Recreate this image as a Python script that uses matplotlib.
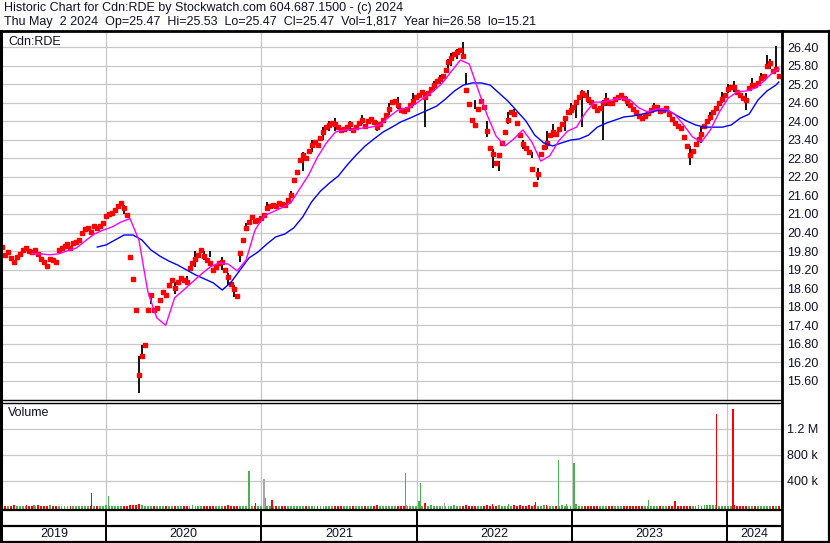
import matplotlib
matplotlib.use("Agg")
import matplotlib.pyplot as plt
import matplotlib.dates as mdates
from matplotlib.lines import Line2D
import pandas as pd

plt.rcParams['font.family'] = ['Liberation Sans', 'DejaVu Sans']

# ---- data ----
title1 = "Historic Chart for Cdn:RDE by Stockwatch.com 604.687.1500 - (c) 2024"
title2 = "Thu May  2 2024  Op=25.47  Hi=25.53  Lo=25.47  Cl=25.47  Vol=1,817  Year hi=26.58  lo=15.21"
symbol = "Cdn:RDE"
last_date = "2024-05-02"
x_start, x_end = "2019-05-02", "2024-05-07"
years = [2019, 2020, 2021, 2022, 2023, 2024]

# weekly closes, oldest first
close = [
    19.93, 19.68, 19.77, 19.58, 19.45, 19.60, 19.71, 19.84, 19.90, 19.80,
    19.77, 19.84, 19.71, 19.55, 19.45, 19.32, 19.55, 19.50, 19.45, 19.84,
    19.90, 19.95, 20.03, 19.90, 20.06, 20.10, 20.16, 20.39, 20.50, 20.55,
    20.42, 20.61, 20.55, 20.60, 20.71, 20.94, 21.00, 21.03, 21.13, 21.26,
    21.36, 21.20, 20.97, 19.60, 18.90, 17.90, 15.80, 16.40, 16.77, 17.90,
    18.38, 17.90, 17.96, 18.22, 18.48, 18.38, 18.71, 18.87, 18.61, 18.80,
    18.93, 18.85, 18.80, 19.26, 19.40, 19.55, 19.68, 19.84, 19.65, 19.50,
    19.40, 19.19, 19.30, 19.40, 19.45, 19.20, 18.95, 18.75, 18.58, 18.35,
    19.74, 20.16, 20.55, 20.74, 20.90, 20.76, 20.80, 20.87, 20.97, 21.20,
    21.25, 21.29, 21.26, 21.36, 21.32, 21.29, 21.45, 21.62, 22.10, 22.36,
    22.75, 22.91, 22.81, 23.05, 23.23, 23.33, 23.23, 23.45, 23.65, 23.80,
    23.88, 23.95, 23.90, 23.82, 23.72, 23.76, 23.82, 23.91, 23.72, 23.82,
    23.95, 24.04, 23.85, 24.00, 24.08, 23.98, 23.80, 23.90, 24.05, 24.20,
    24.40, 24.62, 24.65, 24.52, 24.38, 24.32, 24.40, 24.52, 24.66, 24.78,
    24.86, 24.95, 24.78, 24.92, 25.05, 25.17, 25.30, 25.38, 25.45, 25.66,
    25.92, 26.05, 26.16, 26.24, 26.30, 26.10, 25.00, 24.55, 24.05, 23.88,
    24.40, 24.65, 24.45, 23.70, 23.15, 22.95, 22.65, 22.90, 23.30, 23.65,
    24.05, 24.30, 24.25, 23.95, 23.55, 23.25, 23.15, 23.00, 22.45, 21.98,
    22.30, 22.95, 23.18, 23.30, 23.55, 23.65, 23.60, 23.75, 23.90, 24.10,
    24.30, 24.38, 24.45, 24.62, 24.80, 24.90, 24.85, 24.72, 24.62, 24.48,
    24.36, 24.42, 24.58, 24.69, 24.60, 24.58, 24.72, 24.80, 24.85, 24.75,
    24.65, 24.52, 24.40, 24.30, 24.18, 24.12, 24.18, 24.28, 24.36, 24.45,
    24.47, 24.32, 24.36, 24.43, 24.25, 24.08, 23.95, 23.85, 23.78, 23.50,
    23.20, 22.90, 23.05, 23.25, 23.42, 23.58, 23.85, 24.00, 24.15, 24.30,
    24.42, 24.58, 24.72, 24.85, 25.05, 25.12, 25.10, 24.95, 24.84, 24.75,
    24.70, 25.07, 25.18, 25.16, 25.25, 25.40, 25.47, 25.80, 25.88, 25.62,
    25.70, 25.47,
]

# high/low bars: week index, high, low
bar_wk = [41, 46, 47, 50, 58, 62, 65, 68, 70, 74, 76, 78, 80, 82, 89, 97,
          101, 104, 108, 110, 112, 117, 121, 126, 130, 133, 138, 142, 145, 147,
          150, 151, 153, 155, 156, 159, 163, 165, 167, 170, 172, 175, 178, 180,
          183, 185, 189, 191, 193, 195, 197, 202, 203, 210, 219, 231, 235, 238,
          242, 244, 246, 250, 252, 255, 257, 258, 260]
bar_hi = [21.30, 16.41, 16.75, 18.30, 18.80, 19.00, 19.80, 19.80, 19.80, 19.60,
          19.10, 18.70, 19.70, 20.70, 21.40, 21.75, 23.00, 23.40, 23.80, 24.00,
          24.10, 24.00, 24.20, 24.00, 24.60, 24.80, 24.90, 24.95, 25.30, 25.50,
          26.00, 26.20, 26.35, 26.56, 25.55, 24.70, 24.00, 23.10, 22.70, 24.30,
          24.40, 23.40, 23.00, 22.50, 23.70, 23.90, 24.10, 24.60, 24.60, 25.00,
          25.00, 24.70, 24.90, 24.80, 24.60, 23.20, 23.80, 24.30, 24.95, 25.20,
          25.30, 24.90, 25.40, 25.55, 26.15, 26.00, 26.45]
bar_lo = [21.00, 15.21, 16.40, 18.10, 18.40, 18.70, 19.30, 19.50, 19.60, 19.20,
          18.70, 18.30, 19.45, 20.45, 21.10, 21.55, 22.40, 23.00, 23.40, 23.70,
          23.70, 23.70, 23.90, 23.70, 24.20, 24.40, 24.50, 23.81, 25.00, 25.20,
          25.70, 25.80, 26.00, 26.10, 25.20, 24.40, 23.50, 22.50, 22.40, 23.90,
          24.20, 23.10, 22.80, 22.10, 23.10, 23.50, 23.70, 24.20, 24.10, 23.80,
          24.60, 23.40, 24.50, 24.50, 24.30, 22.60, 23.30, 24.00, 24.60, 24.90,
          24.95, 24.35, 25.10, 25.30, 25.75, 25.70, 25.60]

# fast (magenta) and slow (blue) moving averages, sampled every 3 weeks
ma_fast_wk = list(range(10, 260, 3)) + [261]
ma_fast = [
    19.71, 19.71, 19.68, 19.71, 19.81, 19.90, 20.13, 20.35, 20.48, 20.58,
    20.74, 20.85, 20.16, 18.48, 17.64, 17.40, 18.29, 18.54, 18.80, 19.06,
    19.29, 19.42, 19.38, 19.16, 19.51, 20.48, 20.94, 21.07, 21.20, 21.36,
    21.81, 22.26, 22.84, 23.30, 23.65, 23.72, 23.72, 23.78, 23.81, 23.88,
    24.14, 24.36, 24.43, 24.56, 24.78, 24.98, 25.24, 25.62, 25.98, 25.85,
    25.01, 24.20, 23.52, 23.20, 23.43, 23.72, 23.33, 22.71, 22.88, 23.36,
    23.68, 23.81, 24.27, 24.62, 24.62, 24.69, 24.75, 24.69, 24.43, 24.30,
    24.40, 24.40, 24.23, 23.88, 23.49, 23.33, 23.72, 24.30, 24.75, 24.95,
    24.98, 25.07, 25.30, 25.59, 25.69,
]
ma_slow_wk = list(range(32, 261, 3)) + [261]
ma_slow = [
    19.93, 20.00, 20.16, 20.32, 20.32, 20.16, 19.84, 19.64, 19.48, 19.35,
    19.19, 19.03, 18.90, 18.77, 18.54, 18.80, 19.19, 19.58, 19.77, 20.03,
    20.26, 20.35, 20.55, 20.90, 21.39, 21.74, 22.00, 22.23, 22.59, 22.91,
    23.20, 23.43, 23.65, 23.81, 23.98, 24.10, 24.23, 24.36, 24.49, 24.72,
    24.98, 25.17, 25.24, 25.24, 25.17, 24.91, 24.65, 24.33, 24.01, 23.55,
    23.30, 23.20, 23.30, 23.39, 23.43, 23.55, 23.81, 23.94, 24.04, 24.14,
    24.17, 24.23, 24.30, 24.36, 24.33, 24.17, 24.01, 23.88, 23.81, 23.81,
    23.81, 23.88, 24.10, 24.23, 24.69, 24.98, 25.17, 25.27,
]

# weekly volume (thousands)
vol_k = [
    12, 18, 9, 14, 22, 10, 15, 8, 13, 20, 11, 16, 25, 9, 14, 12, 30, 10, 13, 17,
    9, 14, 11, 19, 12, 8, 16, 13, 21, 10, 14, 12, 18, 9, 15, 24, 11, 13, 17, 10,
    14, 19, 12, 26, 33, 28, 40, 22, 18, 15, 12, 20, 14, 10, 16, 13, 19, 11, 9, 15,
    12, 17, 10, 14, 22, 13, 9, 18, 11, 15, 12, 20, 10, 14, 16, 11, 25, 13, 18, 21,
    15, 12, 20, 14, 11, 16, 13, 18, 10, 14, 12, 17, 9, 13, 15, 11, 19, 12, 14, 10,
    16, 13, 11, 18, 12, 9, 14, 20, 11, 13, 17, 10, 15, 12, 19, 9, 14, 11, 16, 13,
    10, 18, 12, 15, 9, 14, 22, 11, 13, 17, 10, 15, 12, 19, 14, 11, 16, 13, 9, 18,
    15, 20, 17, 12, 25, 14, 10, 16, 13, 19, 11, 15, 28, 12, 18, 14, 22, 17, 12, 15,
    20, 13, 18, 24, 16, 21, 14, 27, 19, 13, 16, 12, 22, 18, 30, 15, 20, 25, 17, 22,
    19, 14, 26, 18, 15, 20, 13, 17, 24, 16, 12, 19, 14, 10, 15, 11, 13, 9, 14, 12,
    10, 15, 11, 13, 9, 16, 12, 14, 10, 13, 18, 11, 15, 9, 12, 14, 10, 16, 13, 11,
    14, 12, 9, 15, 11, 18, 13, 16, 12, 20, 15, 11, 14, 17, 25, 19, 22, 30, 28, 35,
    24, 18, 15, 20, 13, 16, 22, 14, 11, 15, 18, 12, 16, 10, 13, 15, 11, 14, 9, 12,
    13, 10,
]

# single-day volume spikes
spike_dates = ['2019-06-28', '2019-07-16', '2019-11-29', '2020-01-07', '2020-12-03',
               '2020-12-18', '2021-01-07', '2021-01-11', '2021-01-26', '2021-12-06',
               '2021-12-09', '2022-01-07', '2022-01-10', '2022-01-21', '2022-03-08',
               '2022-06-17', '2022-06-29', '2022-08-05', '2022-10-07', '2022-11-02',
               '2022-11-30', '2022-12-20', '2023-01-06', '2023-01-11', '2023-06-30',
               '2023-09-01', '2023-12-06', '2023-12-08', '2024-01-15']
spike_vol_k = [30, 22, 220, 175, 550, 65, 430, 145, 108, 520,
               25, 90, 375, 65, 65, 35, 40, 40, 80, 30,
               720, 40, 680, 40, 105, 90, 30, 1430, 1510]
spike_col = ['r', 'g', 'r', 'g', 'g', 'r', 'k', 'g', 'r', 'g',
             'k', 'g', 'g', 'r', 'k', 'r', 'r', 'g', 'r', 'r',
             'g', 'g', 'g', 'g', 'g', 'r', 'g', 'r', 'r']

# ---- styling ----
W, H = 830, 543
RED, GREEN, GREY = '#ff0000', '#4caf50', '#a8a8a8'
GRID = '#c8c8c8'
TXT = '#10102a'
colmap = {'r': RED, 'g': GREEN, 'k': GREY}


def fx(px):
    return px / W


def fy(py):
    return 1 - py / H


dates = pd.date_range(end=last_date, periods=len(close), freq='7D')
xlo, xhi = mdates.date2num(pd.Timestamp(x_start)), mdates.date2num(pd.Timestamp(x_end))
year_starts = [mdates.date2num(pd.Timestamp(f"{y}-01-01")) for y in years[1:]]

fig = plt.figure(figsize=(W / 100, H / 100), dpi=100)
fig.patch.set_facecolor('white')

# price panel
ax = fig.add_axes([fx(2), fy(401), fx(781) - fx(2), fy(31) - fy(401)])
ax.set_xlim(xlo, xhi)
ax.set_ylim(14.95, 26.92)
ticks = [15.6 + 0.6 * i for i in range(19)]
ax.set_yticks(ticks)
ax.set_yticklabels([f"{t:.2f}" for t in ticks])
ax.yaxis.tick_right()
ax.tick_params(axis='y', length=0, pad=4.5, labelsize=9, labelcolor=TXT)
ax.set_xticks([])
for t in ticks:
    ax.axhline(t, color=GRID, lw=0.9, zorder=0)
for ys in year_starts:
    ax.axvline(ys, color=GRID, lw=0.9, zorder=0)
for s in ax.spines.values():
    s.set_visible(False)

bx = [dates[i] for i in bar_wk]
ax.vlines(bx, bar_lo, bar_hi, color='black', lw=1.3, zorder=2)
ax.plot(dates, close, ls='none', marker='s', ms=2.2, mfc=RED, mec=RED, zorder=3)
ax.plot([dates[i] for i in ma_slow_wk], ma_slow, color='#0000ff', lw=1.0, zorder=4)
ax.plot([dates[i] for i in ma_fast_wk], ma_fast, color='#ff00ff', lw=1.0, zorder=4)
ax.text(6 / 779, 1 - 11 / 370, symbol, transform=ax.transAxes, fontsize=9,
        color=TXT, va='center', ha='left')

# volume panel
vax = fig.add_axes([fx(2), fy(509), fx(781) - fx(2), fy(403) - fy(509)])
vlo = -32e3
vax.set_xlim(xlo, xhi)
vax.set_ylim(vlo, 1.6e6)
vticks = [400e3, 800e3, 1.2e6]
vax.set_yticks(vticks)
vax.set_yticklabels(['400 k', '800 k', '1.2 M'])
vax.yaxis.tick_right()
vax.tick_params(axis='y', length=0, pad=4.5, labelsize=9, labelcolor=TXT)
vax.set_xticks([])
for t in vticks:
    vax.axhline(t, color=GRID, lw=0.9, zorder=0)
for ys in year_starts:
    vax.axvline(ys, color=GRID, lw=0.9, zorder=0)
for s in vax.spines.values():
    s.set_visible(False)

wcol = [GREY] + [GREEN if c > p else RED if c < p else GREY
                 for p, c in zip(close[:-1], close[1:])]
vols = [v * 1e3 for v in vol_k]
vax.bar(dates, [v - vlo for v in vols], bottom=vlo, width=4.5, color=wcol, zorder=2)
sd = pd.to_datetime(spike_dates)
sv = [v * 1e3 for v in spike_vol_k]
vax.bar(sd, [v - vlo for v in sv], bottom=vlo, width=3.2,
        color=[colmap[c] for c in spike_col], zorder=3)
vax.text(6 / 779, 1 - 10 / 106, "Volume", transform=vax.transAxes, fontsize=9,
         color=TXT, va='center', ha='left')

# year strip
sax = fig.add_axes([fx(2), fy(541), fx(781) - fx(2), fy(510) - fy(541)])
sax.set_xlim(xlo, xhi)
sax.set_ylim(0, 1)
sax.axis('off')
sax.axhline(0.47, color='black', lw=1.6)
for ys in year_starts:
    sax.axvline(ys, color='black', lw=1.4)
for y in years:
    a = max(mdates.date2num(pd.Timestamp(f"{y}-01-01")), xlo)
    b = min(mdates.date2num(pd.Timestamp(f"{y + 1}-01-01")), xhi)
    sax.text((a + b) / 2, 0.22, str(y), ha='center', va='center', fontsize=9, color=TXT)

# header
fig.text(fx(4), fy(8.5), title1, fontsize=9, color=TXT, va='center', ha='left')
fig.text(fx(4), fy(22.5), title2, fontsize=9, color=TXT, va='center', ha='left')

# frame lines
def hline(y, x0, x1, lw):
    fig.add_artist(Line2D([fx(x0), fx(x1)], [fy(y), fy(y)], color='black', lw=lw))


def vline(x, y0, y1, lw):
    fig.add_artist(Line2D([fx(x), fx(x)], [fy(y0), fy(y1)], color='black', lw=lw))


hline(31, 0, 830, 2.0)
hline(400, 0, 781, 1.0)
hline(402.5, 0, 781, 1.0)
hline(510, 0, 781, 1.6)
hline(541.8, 0, 830, 1.6)
vline(1, 31, 543, 2.2)
vline(781.5, 31, 543, 2.0)
vline(828.8, 31, 543, 1.6)

fig.savefig('out.png', dpi=100)
